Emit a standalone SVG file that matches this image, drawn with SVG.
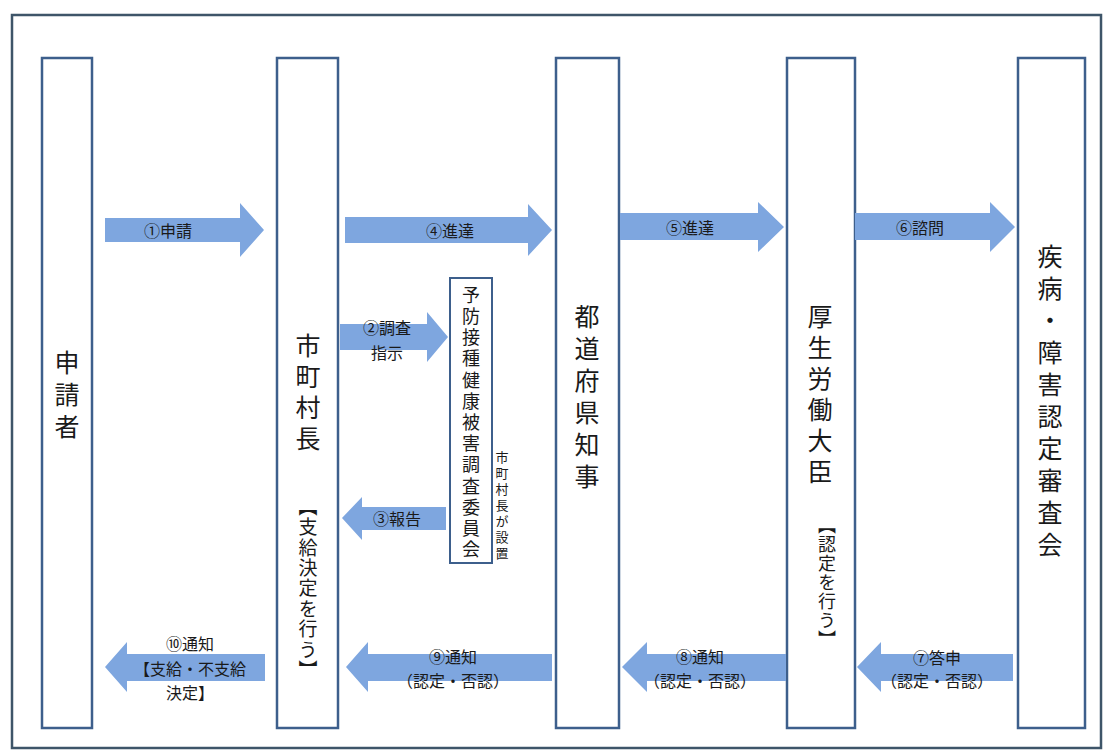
<svg xmlns="http://www.w3.org/2000/svg" width="1105" height="754" viewBox="0 0 1105 754">
<style>
.frame{fill:none;stroke:#3e5569;stroke-width:2.5}
.box{fill:#ffffff;stroke:#3d5f8c;stroke-width:2.5}
.arr{fill:#7ea6df}
.v{font-family:"Noto Sans CJK JP","Noto Sans CJK SC",sans-serif;writing-mode:vertical-rl;fill:#1a1a1a}
.big{font-size:25px;letter-spacing:7px}
.lbl{font-family:"Noto Sans CJK JP","Noto Sans CJK SC",sans-serif;font-size:16px;fill:#1a1a1a;text-anchor:middle;dominant-baseline:central}
</style>
<rect width="1105" height="754" fill="#ffffff"/>
<rect class="frame" x="12" y="15" width="1089" height="733"/>

<g id="node-applicant">
<rect class="box" x="42" y="58" width="50" height="670"/>
<text class="v big" x="67" y="350">申請者</text>
</g>
<g id="node-mayor">
<rect class="box" x="277" y="58" width="61" height="670"/>
<text class="v big" x="308" y="333" style="letter-spacing:6px">市町村長</text>
<text class="v" x="308" y="497" style="font-size:19px;letter-spacing:1.4px">【支給決定を行う】</text>
</g>
<g id="node-governor">
<rect class="box" x="556" y="58" width="63" height="670"/>
<text class="v big" x="587" y="304">都道府県知事</text>
</g>
<g id="node-minister">
<rect class="box" x="787" y="58" width="68" height="670"/>
<text class="v big" x="820" y="304" style="letter-spacing:6px">厚生労働大臣</text>
<text class="v" x="827" y="516" style="font-size:18px;letter-spacing:1px">【認定を行う】</text>
</g>
<g id="node-council">
<rect class="box" x="1018" y="58" width="67" height="670"/>
<text class="v big" x="1050" y="244">疾病・障害認定審査会</text>
</g>
<g id="node-committee">
<rect class="box" x="450" y="278" width="42" height="285" style="stroke-width:2"/>
<text class="v" x="471" y="286" style="font-size:18px;letter-spacing:3.2px">予防接種健康被害調査委員会</text>
<text class="v" x="502" y="451" style="font-size:13px;letter-spacing:3px">市町村長が設置</text>
</g>

<g id="connectors">
<path class="arr" d="M105,218 H240 V203 L264,230 L240,257 V242 H105 Z"/>
<path class="arr" d="M345,217 H528 V204 L552,230 L528,256 V243 H345 Z"/>
<path class="arr" d="M620,213 H758 V202 L784,227 L758,252 V240 H620 Z"/>
<path class="arr" d="M855,213 H990 V202 L1015,227 L990,252 V240 H855 Z"/>
<path class="arr" d="M340,324 H427 V312 L448,337 L427,362 V350 H340 Z"/>
<path class="arr" d="M446,507 H362 V497 L342,518 L362,540 V530 H446 Z"/>
<path class="arr" d="M1013,654 H881 V642 L857,667 L881,692 V681 H1013 Z"/>
<path class="arr" d="M786,654 H647 V642 L622,667 L647,692 V681 H786 Z"/>
<path class="arr" d="M552,654 H368 V642 L346,667 L368,692 V681 H552 Z"/>
<path class="arr" d="M265,654 H127 V642 L105,667 L127,692 V681 H265 Z"/>
<text class="lbl" x="168" y="230">①申請</text>
<text class="lbl" x="450" y="230">④進達</text>
<text class="lbl" x="690" y="227">⑤進達</text>
<text class="lbl" x="920" y="227">⑥諮問</text>
<text class="lbl" x="387" y="327">②調査</text>
<text class="lbl" x="387" y="352">指示</text>
<text class="lbl" x="397" y="518">③報告</text>
<text class="lbl" x="937" y="657">⑦答申</text>
<text class="lbl" x="937" y="680">（認定・否認）</text>
<text class="lbl" x="700" y="656">⑧通知</text>
<text class="lbl" x="700" y="680">（認定・否認）</text>
<text class="lbl" x="453" y="656">⑨通知</text>
<text class="lbl" x="453" y="680">（認定・否認）</text>
<text class="lbl" x="190" y="643">⑩通知</text>
<text class="lbl" x="190" y="668">【支給・不支給</text>
<text class="lbl" x="190" y="692">決定】</text>
</g>
</svg>
